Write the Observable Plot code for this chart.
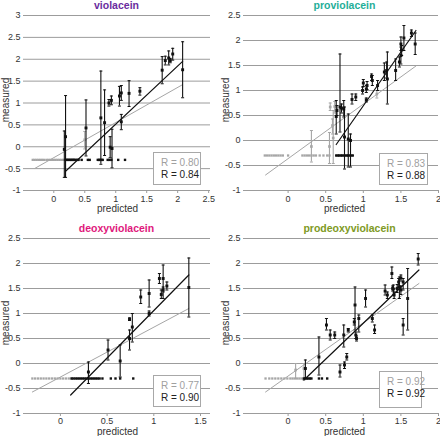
<!DOCTYPE html>
<html><head><meta charset="utf-8">
<script src="https://cdn.jsdelivr.net/npm/d3@7"></script>
<script src="https://cdn.jsdelivr.net/npm/@observablehq/plot@0.6"></script>
<style>
body{margin:0;background:#fff;font-family:"Liberation Sans",Arial,sans-serif;}
#root{position:relative;width:440px;height:436px;overflow:hidden;background:#fff;}
.panel{position:absolute;width:220px;height:218px;}
.panel svg{display:block;}
.legend{position:absolute;border:1px solid #a8a8a8;background:#fff;font-size:10px;line-height:12px;box-sizing:border-box;padding:4px 0 0 7px;white-space:nowrap;}
.legend .old{color:#a0a0a0;}
.legend .new{color:#222;}
</style></head><body><div id="root"></div>
<script>
// detection floor used for non-detected measurements
const baseY = -0.3;

// ---------- violacein ----------
const vioX  = [0.19, 0.17, 0.52, 0.76, 0.82, 0.89, 0.93, 0.91, 0.94, 1.06, 1.09, 1.09, 1.215, 1.39, 1.75, 1.80, 1.855, 1.88, 1.92, 2.08];
const vioY  = [0.23, -0.06, 0.43, 0.66, 0.55, 1.00, 1.06, -0.01, -0.04, 1.16, 1.23, 0.57, 1.22, 1.27, 1.75, 1.97, 2.03, 1.97, 2.12, 1.76];
const vioLo = [-0.70, -0.70, -0.21, -0.40, -0.20, 0.93, 0.96, -0.25, -0.48, 0.93, 1.06, 0.39, 0.92, 1.18, 1.44, 1.87, 1.87, 1.92, 1.98, 1.12];
const vioHi = [1.17, 0.36, 1.07, 1.73, 1.30, 1.08, 1.16, 0.23, 0.40, 1.38, 1.40, 0.74, 1.51, 1.35, 2.06, 2.07, 2.19, 2.02, 2.25, 2.40];
const vioGX = [0.50], vioGY = [0.16], vioGLo = [-0.05], vioGHi = [0.35];
const vioBlackBase = [0.19,0.21,0.23,0.25,0.27,0.29,0.31,0.33,0.35,0.38,0.40,0.45,0.55,0.58,0.71,0.73,0.75,0.77,0.79,0.87,0.90,0.93,1.04,1.15];
const vioGrayBase = [-0.34,-0.31,-0.28,-0.25,-0.22,-0.19,-0.16,-0.12,-0.09,-0.06,-0.03,0.0,0.03,0.06,0.09,0.12,0.15,0.18,0.21,0.24,0.27,0.30,0.33,0.37];
const vioFitOldX = [-0.30, 2.08], vioFitOldY = [-0.49, 1.42];
const vioFitNewX = [0.19, 2.08], vioFitNewY = [-0.56, 1.95];
const vioXTicks = [0, 0.5, 1, 1.5, 2, 2.5];
const vioYTicks = [-1, -0.5, 0, 0.5, 1, 1.5, 2, 2.5, 3];
const vioR = ["R = 0.80", "R = 0.84"];

// ---------- proviolacein ----------
const proX  = [1.69,1.64,1.54,1.50,1.51,1.50,1.48,1.43,1.32,1.31,1.28,1.19,1.12,1.11,1.05,1.04,1.00,0.99,1.04,0.90,0.85,0.69,0.65,0.64,0.71,0.74,0.75,0.80,0.83];
const proY  = [1.93,2.15,2.05,1.93,1.81,1.70,1.57,1.40,1.23,1.40,1.37,1.10,1.20,1.28,1.10,1.03,1.15,1.00,0.81,0.87,0.82,0.67,0.60,0.48,0.65,0.63,0.07,0.03,0.00];
const proLo = [1.72,2.08,1.80,1.80,1.70,1.53,1.47,1.20,0.73,1.25,1.20,1.00,1.10,1.20,1.02,0.96,1.08,0.93,0.77,0.80,0.73,0.17,0.50,0.13,0.55,0.47,-0.57,-0.53,-0.53];
const proHi = [2.15,2.21,2.30,2.07,1.90,1.87,1.67,1.63,1.77,1.57,1.55,1.20,1.30,1.33,1.18,1.10,1.22,1.07,0.85,0.93,0.93,1.73,0.70,0.80,0.73,0.80,0.67,0.53,0.13];
const proGX  = [0.56, 0.59, 0.55, 0.31, 0.62, 0.60, 1.18];
const proGY  = [0.67, 0.30, -0.12, -0.12, 0.68, 0.05, 0.93];
const proGLo = [0.60, 0.13, -0.46, -0.43, 0.55, -0.46, 0.85];
const proGHi = [0.75, 0.43, 0.16, 0.20, 0.78, 0.60, 1.00];
const proBlackBase = [0.64,0.66,0.68,0.70,0.72,0.74,0.76,0.78,0.80,0.82,0.84,0.86];
const proGrayBase = [-0.31,-0.28,-0.25,-0.22,-0.19,-0.16,-0.13,-0.10,-0.07,0.0,0.19,0.22,0.25,0.28,0.31,0.34,0.37,0.42,0.47,0.52,0.55];
const proFitOldX = [-0.30, 1.70], proFitOldY = [-0.69, 1.49];
const proFitNewX = [0.64, 1.70], proFitNewY = [-0.08, 2.20];
const proXTicks = [0, 0.5, 1, 1.5, 2];
const proYTicks = [-1, -0.5, 0, 0.5, 1, 1.5, 2, 2.5];
const proR = ["R = 0.83", "R = 0.88"];

// ---------- deoxyviolacein ----------
const deoX  = [1.375,1.14,1.10,1.08,1.10,1.06,0.95,0.95,0.86,0.77,0.74,0.74,0.64,0.51,0.30];
const deoY  = [1.52,1.55,1.47,1.38,1.70,1.70,1.40,1.00,1.33,0.73,0.89,0.50,0.05,0.27,-0.17];
const deoLo = [0.93,1.47,1.30,1.30,1.43,1.60,1.13,0.95,1.20,0.43,0.86,0.27,-0.27,0.07,-0.40];
const deoHi = [2.11,1.63,1.53,1.47,1.97,1.80,1.67,1.05,1.47,1.00,0.91,0.67,0.37,0.47,0.03];
const deoGX = [], deoGY = [], deoGLo = [], deoGHi = [];
const deoBlackBase = [0.12,0.14,0.16,0.18,0.20,0.22,0.24,0.26,0.28,0.30,0.32,0.34,0.36,0.38,0.40,0.42,0.45,0.54,0.59,0.64,0.78];
const deoGrayBase = [-0.30,-0.27,-0.24,-0.21,-0.18,-0.15,-0.12,-0.09,-0.06,-0.03,0.0,0.03,0.06,0.09,0.12];
const deoFitOldX = [-0.30, 1.375], deoFitOldY = [-0.57, 1.10];
const deoFitNewX = [0.11, 1.375], deoFitNewY = [-0.63, 1.77];
const deoXTicks = [0, 0.5, 1, 1.5];
const deoYTicks = [-1, -0.5, 0, 0.5, 1, 1.5, 2, 2.5];
const deoR = ["R = 0.77", "R = 0.90"];

// ---------- prodeoxyviolacein ----------
const pdeX  = [1.73,1.59,1.53,1.53,1.50,1.48,1.47,1.45,1.50,1.40,1.41,1.38,1.39,1.32,1.29,1.15,1.12,1.03,0.94,0.89,0.88,0.90,0.91,0.78,0.75,0.69,0.80,0.74,0.62,0.56,0.51,0.41,0.23];
const pdeY  = [2.09,1.30,0.77,1.63,1.71,1.53,1.63,1.50,1.47,1.49,1.37,1.80,1.50,1.37,1.45,0.67,0.90,1.30,0.90,1.17,0.83,0.57,0.50,0.13,-0.03,-0.17,0.67,0.57,0.57,0.57,0.77,0.13,-0.10];
const pdeLo = [1.97,0.67,0.57,1.47,1.65,1.30,1.55,1.42,1.38,1.37,1.30,1.70,1.45,1.30,1.37,0.60,0.83,1.13,0.63,0.67,0.77,0.50,0.45,0.07,-0.10,-0.27,0.63,0.33,0.50,0.47,0.67,-0.23,-0.30];
const pdeHi = [2.20,1.90,0.90,1.70,1.77,1.73,1.70,1.58,1.55,1.57,1.43,1.93,1.55,1.43,1.57,0.77,0.97,1.47,0.97,1.53,0.90,0.63,0.55,0.20,0.03,-0.03,0.70,0.77,0.63,0.67,0.90,0.53,0.07];
const pdeGX = [0.10, 0.21], pdeGY = [-0.13, -0.10], pdeGLo = [-0.30, -0.33], pdeGHi = [0.00, 0.00];
const pdeBlackBase = [0.21,0.23,0.25,0.27,0.29,0.31,0.41,0.45,0.52];
const pdeGrayBase = [-0.30,-0.25,-0.21,-0.17,-0.13,-0.09,-0.05,-0.01,0.03,0.06,0.09,0.12,0.15,0.18,0.21];
const pdeFitOldX = [-0.30, 1.74], pdeFitOldY = [-0.57, 1.60];
const pdeFitNewX = [0.21, 1.74], pdeFitNewY = [-0.33, 1.87];
const pdeXTicks = [0, 0.5, 1, 1.5, 2];
const pdeYTicks = [-1, -0.5, 0, 0.5, 1, 1.5, 2, 2.5];
const pdeR = ["R = 0.92", "R = 0.92"];

const GRID = "#9c9c9c", GRAY = "#a6a6a6", BLACK = "#111";
const cap = {draw(ctx, size) { const r = Math.sqrt(size / Math.PI); ctx.moveTo(-r, 0); ctx.lineTo(r, 0); }};
const fmt = d => String(d);

function makePanel(o) {
  const pts = o.x.map((x, i) => ({x, y: o.y[i], lo: o.lo[i], hi: o.hi[i]}));
  const gpts = o.gx.map((x, i) => ({x, y: o.gy[i], lo: o.glo[i], hi: o.ghi[i]}));
  const bb = o.blackBase.map(x => ({x, y: baseY}));
  const gb = o.grayBase.map(x => ({x, y: baseY}));
  const fOld = o.fitOldX.map((x, i) => ({x, y: o.fitOldY[i]}));
  const fNew = o.fitNewX.map((x, i) => ({x, y: o.fitNewY[i]}));
  return Plot.plot({
    width: 220, height: 218,
    marginLeft: 30, marginRight: o.mr, marginTop: o.mt, marginBottom: o.mb,
    x: {domain: o.xDomain},
    y: {domain: o.yDomain},
    style: {fontFamily: "'Liberation Sans', Arial, sans-serif", fontSize: "9px", color: "#333", background: "transparent", overflow: "visible"},
    marks: [
      Plot.gridY(o.yTicks, {stroke: GRID, strokeOpacity: 1, strokeWidth: 1}),
      Plot.axisY(o.yTicks, {tickSize: 7, tickPadding: 3, stroke: GRID, fill: "#333", tickFormat: fmt, label: null}),
      Plot.axisX(o.xTicks, {tickSize: 3, tickPadding: o.tp, stroke: GRID, fill: "#333", tickFormat: fmt, label: null}),
      // older model (gray)
      Plot.dot(gb, {x: "x", y: "y", symbol: "square", r: 1.3, fill: GRAY, stroke: "none"}),
      Plot.ruleX(gpts, {x: "x", y1: "lo", y2: "hi", stroke: GRAY, strokeWidth: 1.1}),
      Plot.dot(gpts, {x: "x", y: "lo", symbol: cap, r: 1.5, stroke: GRAY, strokeWidth: 1}),
      Plot.dot(gpts, {x: "x", y: "hi", symbol: cap, r: 1.5, stroke: GRAY, strokeWidth: 1}),
      Plot.dot(gpts, {x: "x", y: "y", symbol: "square", r: 1.5, fill: GRAY, stroke: "none"}),
      Plot.line(fOld, {x: "x", y: "y", stroke: GRAY, strokeWidth: 1}),
      // new model (black)
      Plot.dot(bb, {x: "x", y: "y", symbol: "square", r: 1.35, fill: BLACK, stroke: "none"}),
      Plot.ruleX(pts, {x: "x", y1: "lo", y2: "hi", stroke: BLACK, strokeWidth: 1.1}),
      Plot.dot(pts, {x: "x", y: "lo", symbol: cap, r: 1.5, stroke: BLACK, strokeWidth: 1}),
      Plot.dot(pts, {x: "x", y: "hi", symbol: cap, r: 1.5, stroke: BLACK, strokeWidth: 1}),
      Plot.dot(pts, {x: "x", y: "y", symbol: "square", r: 1.65, fill: BLACK, stroke: "none"}),
      Plot.line(fNew, {x: "x", y: "y", stroke: BLACK, strokeWidth: 1.2}),
      // texts
      Plot.text([o.title], {frameAnchor: "top", lineAnchor: "middle", textAnchor: "middle", dy: -10, dx: o.tdx, fontWeight: "bold", fontSize: 10.5, fill: o.color}),
      Plot.text(["predicted"], {frameAnchor: "bottom", lineAnchor: "middle", textAnchor: "middle", dy: o.pdy, dx: o.pdx, fontSize: 10, fill: "#333"}),
      Plot.text(["measured"], {frameAnchor: "left", lineAnchor: "middle", textAnchor: "middle", rotate: -90, dx: -25, dy: -3, fontSize: 10, fill: "#333"})
    ]
  });
}

const panels = [
  {left: 0, top: 0, title: "violacein", color: "#6a2c9e", tdx: -4, pdx: -3, pdy: 18.5, tp: 2,
   x: vioX, y: vioY, lo: vioLo, hi: vioHi, gx: vioGX, gy: vioGY, glo: vioGLo, ghi: vioGHi,
   blackBase: vioBlackBase, grayBase: vioGrayBase, fitOldX: vioFitOldX, fitOldY: vioFitOldY, fitNewX: vioFitNewX, fitNewY: vioFitNewY,
   xTicks: vioXTicks, yTicks: vioYTicks, xDomain: [-0.376, 2.53], yDomain: [-1, 3], mr: 10, mt: 15, mb: 28,
   r: vioR, box: [153, 152, 48, 33]},
  {left: 220, top: 0, title: "proviolacein", color: "#1fae98", tdx: 0, pdx: 0, pdy: 18.5, tp: 2,
   x: proX, y: proY, lo: proLo, hi: proHi, gx: proGX, gy: proGY, glo: proGLo, ghi: proGHi,
   blackBase: proBlackBase, grayBase: proGrayBase, fitOldX: proFitOldX, fitOldY: proFitOldY, fitNewX: proFitNewX, fitNewY: proFitNewY,
   xTicks: proXTicks, yTicks: proYTicks, xDomain: [-0.5, 2], yDomain: [-1, 2.5], mr: 2, mt: 15, mb: 28,
   r: proR, box: [159, 153, 49, 32]},
  {left: 0, top: 218, title: "deoxyviolacein", color: "#e0187c", tdx: -4, pdx: -3, pdy: 18, tp: 1,
   x: deoX, y: deoY, lo: deoLo, hi: deoHi, gx: deoGX, gy: deoGY, glo: deoGLo, ghi: deoGHi,
   blackBase: deoBlackBase, grayBase: deoGrayBase, fitOldX: deoFitOldX, fitOldY: deoFitOldY, fitNewX: deoFitNewX, fitNewY: deoFitNewY,
   xTicks: deoXTicks, yTicks: deoYTicks, xDomain: [-0.32, 1.607], yDomain: [-1, 2.5], mr: 10, mt: 20, mb: 23,
   r: deoR, box: [153, 157, 48, 32]},
  {left: 220, top: 218, title: "prodeoxyviolacein", color: "#7e9a24", tdx: 5, pdx: 0, pdy: 18, tp: 1,
   x: pdeX, y: pdeY, lo: pdeLo, hi: pdeHi, gx: pdeGX, gy: pdeGY, glo: pdeGLo, ghi: pdeGHi,
   blackBase: pdeBlackBase, grayBase: pdeGrayBase, fitOldX: pdeFitOldX, fitOldY: pdeFitOldY, fitNewX: pdeFitNewX, fitNewY: pdeFitNewY,
   xTicks: pdeXTicks, yTicks: pdeYTicks, xDomain: [-0.5, 2], yDomain: [-1, 2.5], mr: 2, mt: 20, mb: 23,
   r: pdeR, box: [159, 153, 43, 37]}
];

const root = document.getElementById("root");
for (const p of panels) {
  const div = document.createElement("div");
  div.className = "panel";
  div.style.left = p.left + "px";
  div.style.top = p.top + "px";
  div.appendChild(makePanel(p));
  const lg = document.createElement("div");
  lg.className = "legend";
  lg.style.left = p.box[0] + "px";
  lg.style.top = p.box[1] + "px";
  lg.style.width = p.box[2] + "px";
  lg.style.height = p.box[3] + "px";
  lg.innerHTML = `<div class="old">${p.r[0]}</div><div class="new">${p.r[1]}</div>`;
  div.appendChild(lg);
  root.appendChild(div);
}
</script>
</body></html>
